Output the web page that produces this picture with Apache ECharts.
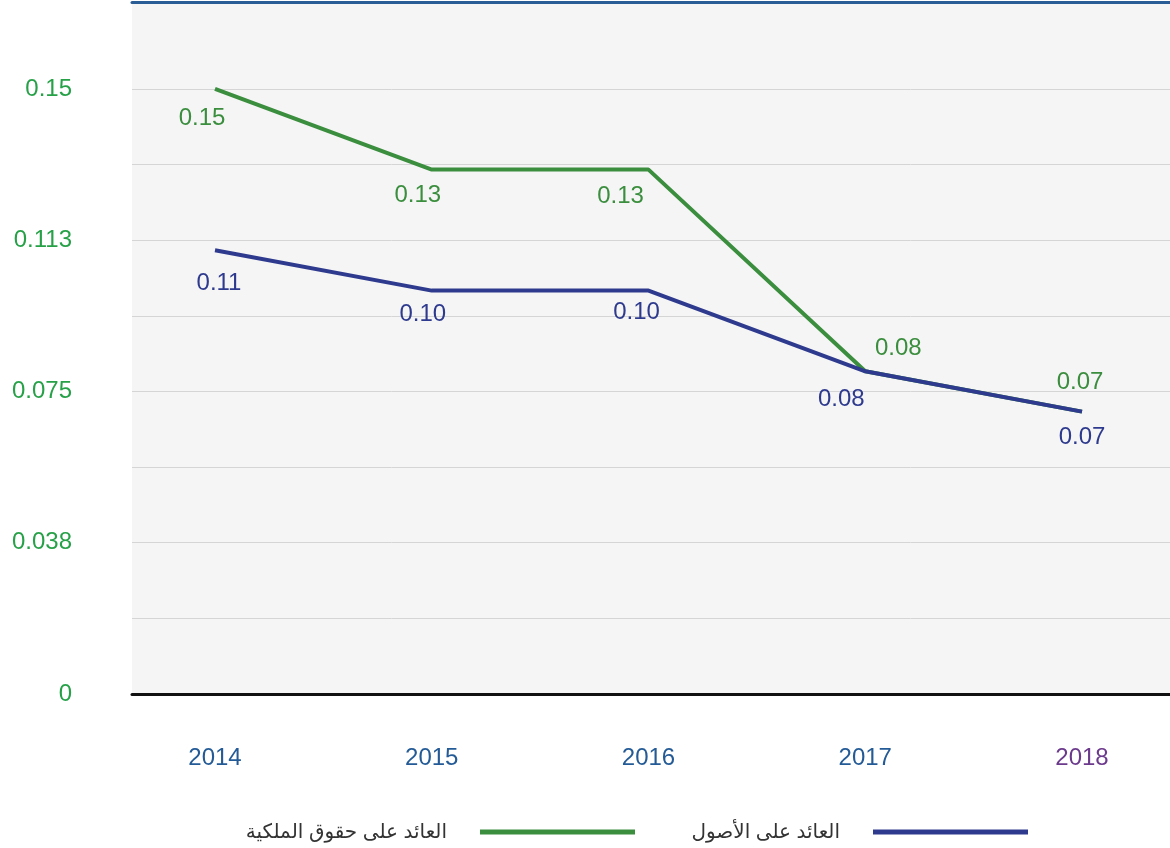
<!DOCTYPE html>
<html>
<head>
<meta charset="utf-8">
<script src="https://cdn.jsdelivr.net/npm/echarts@6/dist/echarts.min.js"></script>
<style>
  html, body { margin: 0; padding: 0; background: #ffffff; }
  #chart-container { width: 1170px; height: 848px; }
</style>
</head>
<body>
<div id="chart-container"></div>
<script>
// data
var years = ['2014', '2015', '2016', '2017', '2018'];
var roeName = 'العائد على حقوق الملكية';
var roaName = 'العائد على الأصول';
var roeValues = [0.15, 0.13, 0.13, 0.08, 0.07];
var roaValues = [0.11, 0.10, 0.10, 0.08, 0.07];
var yTickLabels = ['0', '0.038', '0.075', '0.113', '0.15'];
var yLabelStep = 0.0375;
var yLineStep = 0.01875;
var yMax = 0.1713;

// where each value label sits relative to its point
var roeLabelOffsets = [[-13, 29], [-14, 26], [-28, 27], [33, -23], [-2, -29]];
var roaLabelOffsets = [[4, 33], [-9, 24], [-12, 22], [-24, 28], [0, 26]];

var green = '#3b8e3e';
var blue = '#2e3a8e';
var font = 'Liberation Sans, Arial, DejaVu Sans, sans-serif';

var dom = document.getElementById('chart-container');
var myChart = echarts.init(dom, null, { renderer: 'canvas' });

function buildData(values, offsets) {
  return values.map(function (v, i) {
    return { value: v, label: { offset: offsets[i] } };
  });
}

var splitColors = [];
for (var i = 0; i < 11; i++) splitColors.push(i === 9 ? 'rgba(0,0,0,0)' : '#d5d5d5');

var option = {
  animation: false,
  textStyle: { fontFamily: font },
  grid: [
    { left: 132, right: 0, top: 3, bottom: 154, show: true, backgroundColor: '#f5f5f5', borderWidth: 0 },
    { left: 215, right: 88, top: 3, bottom: 154 }
  ],
  legend: [
    {
      data: [roeName], right: 535, top: 822, padding: 0,
      icon: 'rect', itemWidth: 155, itemHeight: 5, align: 'right',
      textStyle: { fontSize: 20, color: '#333333', fontFamily: font, padding: [2, 28, 0, 0] }
    },
    {
      data: [roaName], right: 142, top: 822, padding: 0,
      icon: 'rect', itemWidth: 155, itemHeight: 5, align: 'right',
      textStyle: { fontSize: 20, color: '#333333', fontFamily: font, padding: [2, 28, 0, 0] }
    }
  ],
  xAxis: [
    {
      type: 'value', gridIndex: 0, position: 'bottom', min: 0, max: 1,
      axisLine: { show: true, lineStyle: { color: '#111111', width: 3 } },
      axisTick: { show: false }, axisLabel: { show: false }, splitLine: { show: false }
    },
    {
      type: 'value', gridIndex: 0, position: 'top', offset: 1, min: 0, max: 1,
      axisLine: { show: true, lineStyle: { color: '#2a5c96', width: 3 } },
      axisTick: { show: false }, axisLabel: { show: false }, splitLine: { show: false }
    },
    {
      type: 'category', gridIndex: 1, data: years, boundaryGap: false,
      axisLine: { show: false }, axisTick: { show: false }, splitLine: { show: false },
      axisLabel: {
        margin: 52, fontSize: 24, fontFamily: font,
        color: function (value, index) {
          return value === '2018' ? '#6c3a8c' : '#245b96';
        }
      }
    }
  ],
  yAxis: [
    {
      type: 'value', gridIndex: 0, min: 0, max: yMax, interval: yLineStep,
      axisLine: { show: false }, axisTick: { show: false },
      axisLabel: {
        margin: 60, fontSize: 24, color: '#27a148', fontFamily: font, padding: [5, 0, 0, 0],
        formatter: function (v) {
          var k = v / yLabelStep;
          var r = Math.round(k);
          if (Math.abs(k - r) < 1e-6 && r >= 0 && r < yTickLabels.length) return yTickLabels[r];
          return '';
        }
      },
      splitLine: { show: true, lineStyle: { color: splitColors, width: 1 } }
    },
    {
      type: 'value', gridIndex: 1, min: 0, max: yMax, show: false
    }
  ],
  series: [
    {
      name: roeName, type: 'line', xAxisIndex: 2, yAxisIndex: 1,
      data: buildData(roeValues, roeLabelOffsets),
      symbol: 'circle', symbolSize: 0.01,
      lineStyle: { color: green, width: 4 },
      itemStyle: { color: green },
      label: {
        show: true, position: 'inside', fontSize: 24, color: green, fontFamily: font,
        formatter: function (p) { return p.value.toFixed(2); }
      }
    },
    {
      name: roaName, type: 'line', xAxisIndex: 2, yAxisIndex: 1,
      data: buildData(roaValues, roaLabelOffsets),
      symbol: 'circle', symbolSize: 0.01,
      lineStyle: { color: blue, width: 4 },
      itemStyle: { color: blue },
      label: {
        show: true, position: 'inside', fontSize: 24, color: blue, fontFamily: font,
        formatter: function (p) { return p.value.toFixed(2); }
      }
    }
  ]
};

myChart.setOption(option);
window.addEventListener('resize', myChart.resize);
</script>
</body>
</html>
